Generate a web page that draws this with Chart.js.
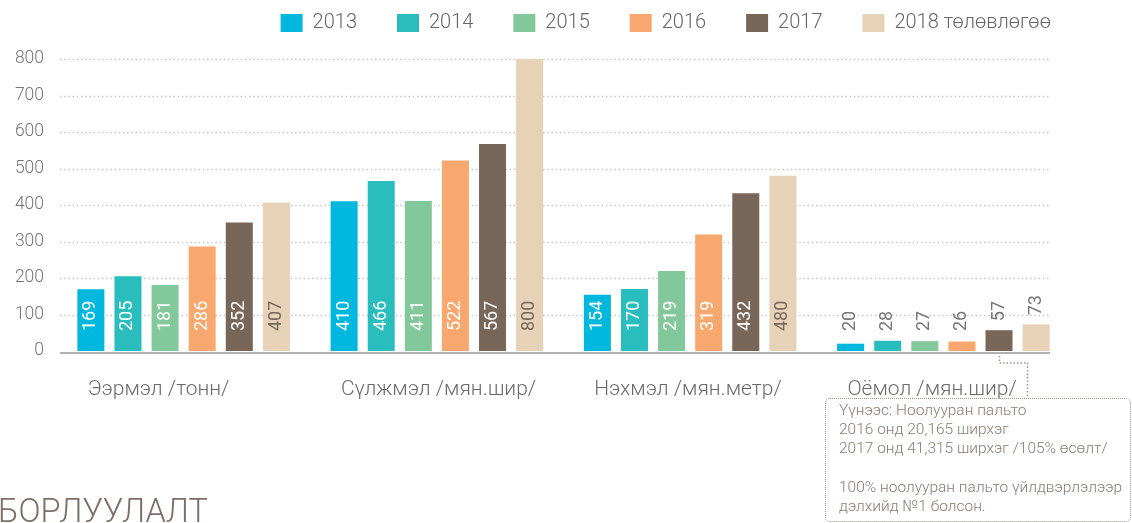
<!DOCTYPE html>
<html>
<head>
<meta charset="utf-8">
<script src="https://cdn.jsdelivr.net/npm/chart.js@4"></script>
<style>
html,body{margin:0;padding:0;background:#fff;}
#wrap{position:relative;width:1132px;height:523px;overflow:hidden;}
canvas{position:absolute;left:0;top:0;}
#note{position:absolute;left:825px;top:398px;width:306px;height:124px;border:1.5px dotted #a0948d;border-radius:5px;box-sizing:border-box;padding:2px 0 0 13px;font-family:Roboto;font-weight:300;font-size:15.5px;line-height:19.2px;color:#8a7b73;white-space:pre;}
#title{position:absolute;left:-2px;top:494px;font-family:Roboto;font-weight:300;font-size:32.5px;line-height:34px;color:#7d6f68;white-space:nowrap;}
</style>
</head>
<body>
<div id="wrap">
<canvas id="c" width="1132" height="523"></canvas>
<div id="note"></div>
<div id="title">БОРЛУУЛАЛТ</div>
</div>
<script>
// ---- data ----
const categories = ['Ээрмэл /тонн/', 'Сүлжмэл /мян.шир/', 'Нэхмэл /мян.метр/', 'Оёмол /мян.шир/'];
const seriesNames = ['2013', '2014', '2015', '2016', '2017', '2018 төлөвлөгөө'];
const values2013 = [169, 410, 154, 20];
const values2014 = [205, 466, 170, 28];
const values2015 = [181, 411, 219, 27];
const values2016 = [286, 522, 319, 26];
const values2017 = [352, 567, 432, 57];
const values2018 = [407, 800, 480, 73];
const yTickValues = [0, 100, 200, 300, 400, 500, 600, 700, 800];
const noteLines = [
  'Үүнээс: Ноолууран пальто',
  '2016 онд 20,165 ширхэг',
  '2017 онд 41,315 ширхэг /105% өсөлт/',
  '',
  '100% ноолууран пальто үйлдвэрлэлээр',
  'дэлхийд №1 болсон.'
];

// ---- styles ----
const seriesColors = ['#00b7dd', '#2abdbe', '#83c89a', '#f8a86e', '#786659', '#e7d1b7'];
const allValues = [values2013, values2014, values2015, values2016, values2017, values2018];

document.getElementById('note').textContent = noteLines.join('\n');

Chart.defaults.font.family = 'Roboto';

const legendFix = {
  id: 'legendFix',
  beforeLayout(chart) {
    const lg = chart.legend;
    if (!lg || lg._patched) return;
    const orig = lg.fit.bind(lg);
    lg.fit = function () {
      orig();
      this.height = 86;
    };
    lg._patched = true;
  },
  afterLayout(chart) {
    const lg = chart.legend;
    if (!lg) return;
    lg.left += 21;
    lg.right += 21;
  }
};

const gridDots = {
  id: 'gridDots',
  beforeDatasetsDraw(chart) {
    const { ctx, chartArea, scales } = chart;
    const y = scales.y;
    const x0 = chartArea.left + 3, x1 = chartArea.right - 20;
    ctx.save();
    ctx.strokeStyle = '#c6c6c6';
    ctx.lineWidth = 1.3;
    ctx.setLineDash([1.5, 2.7]);
    yTickValues.forEach(v => {
      if (v === 0) return;
      const py = Math.round(y.getPixelForValue(v)) + 0.5;
      ctx.beginPath(); ctx.moveTo(x0, py); ctx.lineTo(x1, py); ctx.stroke();
    });
    ctx.restore();
  },
  afterDatasetsDraw(chart) {
    const { ctx, chartArea, scales } = chart;
    const py = scales.y.getPixelForValue(0) + 2;
    ctx.save();
    ctx.strokeStyle = '#b2b2b2';
    ctx.lineWidth = 2;
    ctx.beginPath(); ctx.moveTo(chartArea.left + 3, py); ctx.lineTo(chartArea.right - 20, py); ctx.stroke();
    ctx.restore();
  }
};

const valueLabels = {
  id: 'valueLabels',
  afterDatasetsDraw(chart) {
    const ctx = chart.ctx;
    chart.data.datasets.forEach((ds, di) => {
      const meta = chart.getDatasetMeta(di);
      meta.data.forEach((bar, i) => {
        const p = bar.getProps(['x', 'y', 'base'], true);
        const txt = String(ds.data[i]);
        ctx.save();
        ctx.font = '400 18px Roboto';
        const w = ctx.measureText(txt).width;
        const insideAnchor = p.base - 20;
        const inside = insideAnchor - w - 4 > p.y;
        const anchor = inside ? insideAnchor : Math.min(insideAnchor, p.y - 9);
        ctx.fillStyle = inside ? (di === 5 ? '#74685f' : '#ffffff') : '#777777';
        ctx.translate(p.x, anchor);
        ctx.rotate(-Math.PI / 2);
        ctx.textAlign = 'left';
        ctx.textBaseline = 'middle';
        ctx.fillText(txt, 0, 0);
        ctx.restore();
      });
    });
  }
};

const connector = {
  id: 'connector',
  afterDraw(chart) {
    const bar = chart.getDatasetMeta(4).data[3];
    if (!bar) return;
    const p = bar.getProps(['x', 'base'], true);
    const ctx = chart.ctx;
    ctx.save();
    ctx.strokeStyle = '#a0948d';
    ctx.lineWidth = 1.5;
    ctx.setLineDash([1.5, 2]);
    ctx.beginPath();
    ctx.moveTo(p.x + 0.5, p.base + 5);
    ctx.lineTo(p.x + 0.5, p.base + 12);
    ctx.lineTo(p.x + 28.5, p.base + 12);
    ctx.lineTo(p.x + 28.5, 398);
    ctx.stroke();
    ctx.restore();
  }
};

new Chart(document.getElementById('c'), {
  type: 'bar',
  data: {
    labels: categories,
    datasets: seriesNames.map((name, i) => ({
      label: name,
      data: allValues[i],
      backgroundColor: seriesColors[i],
      borderWidth: 0,
      categoryPercentage: 0.879,
      barPercentage: 0.728
    }))
  },
  options: {
    responsive: false,
    animation: false,
    devicePixelRatio: 1,
    layout: { padding: { top: -27, left: 0, right: 62, bottom: 122 } },
    plugins: {
      tooltip: { enabled: false },
      legend: {
        position: 'top',
        align: 'end',
        labels: {
          boxWidth: 22,
          boxHeight: 18,
          padding: 40,
          color: '#666666',
          font: { size: 20, weight: '300' }
        }
      }
    },
    scales: {
      x: {
        type: 'category',
        offset: true,
        grid: { display: false, drawTicks: false, tickLength: 0 },
        border: { display: false },
        ticks: {
          align: 'start',
          labelOffset: -96,
          padding: 26,
          maxRotation: 0,
          autoSkip: false,
          color: '#6b6b6b',
          font: { size: 21, weight: '300' }
        },
        afterFit(s) { s.height = 50; s.paddingLeft = 0; s.paddingRight = 0; }
      },
      y: {
        min: 0,
        max: 800,
        grid: { display: false, drawTicks: false, tickLength: 0 },
        border: { display: false },
        ticks: {
          stepSize: 100,
          padding: 13,
          color: '#757575',
          font: { size: 17.5, weight: '300' }
        },
        afterFit(s) { s.width = 57; }
      }
    }
  },
  plugins: [legendFix, gridDots, valueLabels, connector]
});
</script>
</body>
</html>
